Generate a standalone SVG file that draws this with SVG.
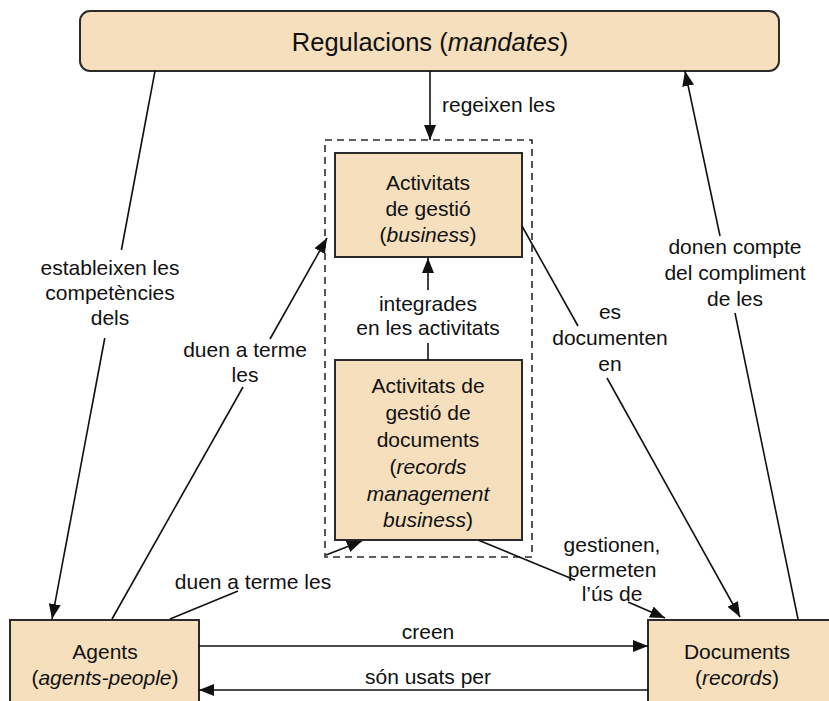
<svg xmlns="http://www.w3.org/2000/svg" width="829" height="701" viewBox="0 0 829 701">
<defs>
<marker id="ah" markerUnits="userSpaceOnUse" markerWidth="16" markerHeight="12" refX="15" refY="6" orient="auto">
<path d="M0,0 L15,6 L0,12 Z" fill="#111"/>
</marker>
<style>
.box{fill:#F5DFBD;stroke:#2b2b2b;stroke-width:2}
.c{fill:none;stroke:#111;stroke-width:1.6}
text{font-family:"Liberation Sans",Arial,sans-serif;font-size:21px;fill:#111}
.m{text-anchor:middle}
</style>
</defs>
<rect x="0" y="0" width="829" height="701" fill="#fff"/>
<g id="regulacions">
<rect class="box" x="80" y="11" width="699" height="60" rx="10"/>
<text class="m" x="430" y="51" style="font-size:25.5px">Regulacions (<tspan font-style="italic">mandates</tspan>)</text>
</g>
<g id="grup">
<rect x="325" y="140" width="207" height="417" fill="none" stroke="#2b2b2b" stroke-width="1.6" stroke-dasharray="7,5"/>
</g>
<g id="activitats">
<rect class="box" x="335" y="153" width="187" height="104"/>
<text class="m" x="428" y="190">Activitats</text>
<text class="m" x="428" y="216">de gestió</text>
<text class="m" x="428" y="242">(<tspan font-style="italic">business</tspan>)</text>
</g>
<g id="gestio-documents">
<rect class="box" x="335" y="360" width="187" height="180"/>
<text class="m" x="428" y="393">Activitats de</text>
<text class="m" x="428" y="420">gestió de</text>
<text class="m" x="428" y="447">documents</text>
<text class="m" x="428" y="474">(<tspan font-style="italic">records</tspan></text>
<text class="m" x="428" y="501" font-style="italic">management</text>
<text class="m" x="428" y="527"><tspan font-style="italic">business</tspan>)</text>
</g>
<g id="agents">
<rect class="box" x="10" y="620" width="189" height="90"/>
<text class="m" x="105" y="659">Agents</text>
<text class="m" x="105" y="685">(<tspan font-style="italic">agents-people</tspan>)</text>
</g>
<g id="documents">
<rect class="box" x="648" y="620" width="190" height="90"/>
<text class="m" x="737" y="659">Documents</text>
<text class="m" x="737" y="685">(<tspan font-style="italic">records</tspan>)</text>
</g>
<g id="connectors">
<line class="c" x1="430" y1="71" x2="430" y2="140" marker-end="url(#ah)"/>
<text x="442" y="112">regeixen les</text>

<line class="c" x1="155" y1="71" x2="121.4" y2="250"/>
<line class="c" x1="104.8" y1="338" x2="52" y2="619" marker-end="url(#ah)"/>
<text class="m" x="110" y="275">estableixen les</text>
<text class="m" x="110" y="300">competències</text>
<text class="m" x="110" y="325">dels</text>

<line class="c" x1="112" y1="619" x2="243" y2="387"/>
<line class="c" x1="270" y1="339" x2="327" y2="238" marker-end="url(#ah)"/>
<text class="m" x="245" y="357">duen a terme</text>
<text class="m" x="245" y="382">les</text>

<line class="c" x1="170" y1="619" x2="238" y2="591"/>
<line class="c" x1="326" y1="555" x2="362" y2="541" marker-end="url(#ah)"/>
<text class="m" x="253" y="589">duen a terme les</text>

<line class="c" x1="428" y1="360" x2="428" y2="343"/>
<line class="c" x1="428" y1="290" x2="428" y2="258" marker-end="url(#ah)"/>
<text class="m" x="428" y="311">integrades</text>
<text class="m" x="428" y="335">en les activitats</text>

<line class="c" x1="522" y1="226" x2="578" y2="326"/>
<line class="c" x1="607" y1="378" x2="740" y2="617" marker-end="url(#ah)"/>
<text class="m" x="610" y="319">es</text>
<text class="m" x="610" y="345">documenten</text>
<text class="m" x="610" y="371">en</text>

<line class="c" x1="478" y1="540" x2="575" y2="580"/>
<line class="c" x1="628" y1="602" x2="665" y2="618" marker-end="url(#ah)"/>
<text class="m" x="612" y="552">gestionen,</text>
<text class="m" x="612" y="577">permeten</text>
<text class="m" x="612" y="601">l’ús de</text>

<line class="c" x1="798" y1="619" x2="735" y2="313"/>
<line class="c" x1="720" y1="236" x2="685" y2="71" marker-end="url(#ah)"/>
<text class="m" x="735" y="254">donen compte</text>
<text class="m" x="735" y="280">del compliment</text>
<text class="m" x="735" y="306">de les</text>

<line class="c" x1="199" y1="646" x2="648" y2="646" marker-end="url(#ah)"/>
<text class="m" x="428" y="639">creen</text>
<line class="c" x1="648" y1="690" x2="199" y2="690" marker-end="url(#ah)"/>
<text class="m" x="428" y="684">són usats per</text>
</g>
</svg>
